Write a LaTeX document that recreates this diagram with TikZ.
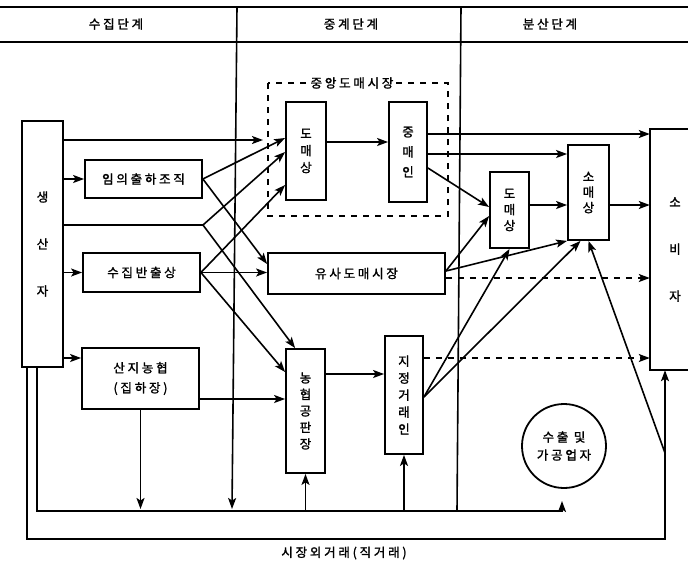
\documentclass[tikz,border=0pt]{standalone}
\usepackage{fontspec}
\setmainfont{Noto Sans CJK KR}[FakeBold=1.6]
\newfontfamily\krs{Noto Sans CJK KR}[LetterSpace=22,FakeBold=1.6]
\usetikzlibrary{arrows.meta,calc}
\begin{document}
\begin{tikzpicture}[x=1pt,y=-1pt,
  box/.style={draw,line width=1.8pt,inner sep=0pt,align=center},
  hbox/.style={box,font=\krs\fontsize{12.5}{20}\selectfont},
  vbox/.style={box,font=\fontsize{12.5}{17}\selectfont},
  arr/.style={line width=1.6pt,-{Stealth[length=11pt,width=8pt,inset=2.5pt]}},
  ln/.style={line width=1.6pt},
  dsh/.style={line width=1.6pt,dash pattern=on 6pt off 6pt},
  lbl/.style={font=\krs\fontsize{12.5}{14}\selectfont,inner sep=1pt}]
\useasboundingbox (0,0) rectangle (688,566);
% header
\draw[line width=2.4pt] (0,7) -- (688,7);
\draw[line width=2.4pt] (0,42) -- (688,42);
\node[lbl] (h1) at (116,24) {수집단계};
\node[lbl] (h2) at (351,24) {중계단계};
\node[lbl] (h3) at (550,24) {분산단계};
% dividers
\draw[arr] (237,7) -- (232,509);
\draw[ln] (461,7) -- (457,511);
% boxes
\node[vbox,minimum width=41pt,minimum height=246pt,font=\fontsize{12.5}{47}\selectfont] (prod) at (42.5,244) {생\\산\\자};
\node[hbox,minimum width=117pt,minimum height=38pt] (imui) at (143.5,179) {임의출하조직};
\node[hbox,minimum width=117pt,minimum height=39pt] (sujip) at (141.5,272.5) {수집반출상};
\node[hbox,minimum width=117pt,minimum height=61pt] (sanji) at (140.5,378.5) {산지농협\\(집하장)};
\draw[dsh] (268,83) rectangle (448,216);
\node[lbl,fill=white] (cwm) at (352,83) {중앙도매시장};
\node[vbox,minimum width=40pt,minimum height=98pt] (dm1) at (306,151) {도\\매\\상};
\node[vbox,minimum width=38pt,minimum height=100pt,font=\fontsize{12.5}{20}\selectfont] (jm) at (408,152) {중\\매\\인};
\node[hbox,minimum width=177pt,minimum height=41pt] (yusa) at (356.5,273.5) {유사도매시장};
\node[vbox,minimum width=39pt,minimum height=124pt,font=\fontsize{12.5}{16.5}\selectfont] (nh) at (305.5,411) {농\\협\\공\\판\\장};
\node[vbox,minimum width=38pt,minimum height=118pt] (jj) at (404,395) {지\\정\\거\\래\\인};
\node[vbox,minimum width=39pt,minimum height=76pt,font=\fontsize{12.5}{16}\selectfont] (dm2) at (509.5,210) {도\\매\\상};
\node[vbox,minimum width=41pt,minimum height=95pt,font=\fontsize{12.5}{15.5}\selectfont] (sm) at (588.5,192.5) {소\\매\\상};
\node[minimum width=50pt,minimum height=241pt,inner sep=0pt,align=center,font=\fontsize{12.5}{47}\selectfont] (cons) at (675,249.5) {소\\비\\자};
\draw[line width=1.8pt] (692,129) -| (650,370) -- (692,370);
\node[draw,circle,line width=1.8pt,minimum size=84pt,inner sep=0pt,align=center,font=\krs\fontsize{12.5}{18}\selectfont] (exp) at (564,446) {수출 및\\가공업자};
% producer outputs
\coordinate (dmin) at (263,140);
\draw[arr] (prod.east |- 0,140) -- (dmin);
\draw[arr] (prod.east |- imui.west) -- (imui.west);
\draw[arr] (prod.east |- sujip.west) -- (sujip.west);
\draw[arr] (prod.east |- 0,358) -- (sanji.west |- 0,358);
\coordinate (split) at (203,225);
\draw[ln] (prod.east |- split) -- (split);
\draw[arr] (split) -- (dm1.west |- 0,152);
\draw[arr] (split) -- ($(nh.north west)+(10,0)$);
% collection stage
\draw[arr] (imui.east) -- (dm1.west |- 0,138);
\draw[arr] (imui.east) -- (yusa.west |- 0,264);
\draw[arr] (sujip.east) -- (dm1.west |- 0,185);
\draw[arr] (sujip.east) -- (sujip.east -| yusa.west);
\draw[arr] (sujip.east) -- (nh.west |- 0,372);
\draw[arr] (sanji.east |- 0,399) -- (nh.west |- 0,399);
\draw[arr] (sanji.south) -- (sanji.south |- 0,509);
% central market
\draw[arr] (dm1.east |- 0,142) -- (jm.west |- 0,142);
\draw[arr] (jm.east |- 0,134) -- (cons.west |- 0,134);
\draw[arr] (jm.east |- 0,154) -- (sm.west |- 0,154);
\draw[arr] (jm.east |- 0,168) -- (dm2.west |- 0,207);
\draw[arr] (dm2.east |- 0,205) -- (sm.west |- 0,205);
\draw[arr] (sm.east |- 0,205) -- (cons.west |- 0,205);
% quasi market
\draw[arr] (yusa.east |- 0,271) -- (dm2.west |- 0,216);
\draw[arr] (yusa.east |- 0,271) -- (sm.south west);
\draw[dsh,-{Stealth[length=11pt,width=8pt,inset=2.5pt]}] (yusa.east |- 0,278) -- (cons.west |- 0,278);
% nonghyup
\draw[arr] (nh.east |- 0,374) -- (jj.west |- 0,374);
\draw[arr] (jj.east |- 0,397) -- (dm2.south);
\draw[arr] (jj.east |- 0,397) -- ($(sm.south)+(-8,0)$);
\draw[dsh,-{Stealth[length=11pt,width=8pt,inset=2.5pt]}] (jj.east |- 0,358) -- (cons.west |- 0,358);
% direct lines
\coordinate (expin) at (562,501);
\draw[arr] (prod.south -| 37,0) -- (37,511) -- (562,511) -- (expin);
\draw[arr] (nh.south |- 0,511) -- (nh.south);
\draw[arr] (jj.south |- 0,511) -- (jj.south);
\coordinate (br) at (665,453);
\draw[arr] (prod.south -| 27,0) -- (27,539) -- (665,539) -- (cons.south -| 665,0);
\draw[arr] (br) -- (sm.south);
\node[lbl] (direct) at (344,553) {시장외거래(직거래)};
\end{tikzpicture}
\end{document}
